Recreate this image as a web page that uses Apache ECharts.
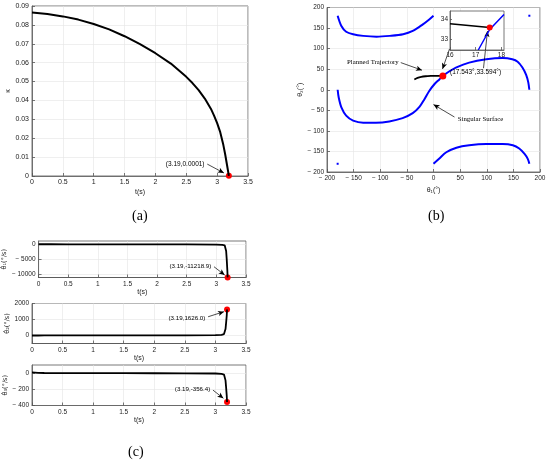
<!DOCTYPE html>
<html>
<head>
<meta charset="utf-8">
<script src="https://cdn.jsdelivr.net/npm/echarts@6/dist/echarts.min.js"></script>
<style>
  html, body { margin: 0; padding: 0; background: #fff; }
  #main { width: 550px; height: 464px; }
</style>
</head>
<body>
<div id="main"></div>
<script>
// ---- (a) curvature kappa vs time
var kappaT   = [0, 0.25, 0.5, 0.75, 1.0, 1.25, 1.5, 1.75, 2.0, 2.25, 2.5, 2.6, 2.7, 2.8, 2.9, 2.95, 3.0, 3.05, 3.1, 3.13, 3.16, 3.19];
var kappaVal = [0.0865, 0.0858, 0.0845, 0.0828, 0.0805, 0.0776, 0.0740, 0.0698, 0.0650, 0.0595, 0.0525, 0.0492, 0.0455, 0.0410, 0.0355, 0.0320, 0.0280, 0.0232, 0.0165, 0.0115, 0.0058, 0.0001];
var kappaEnd = [3.19, 0.0001];

// ---- (b) singular surface and planned trajectory, theta1 / theta2 in degrees
var surfUpper  = [[-180, 180], [-173, 155], [-164, 141], [-151, 135], [-132, 131], [-107, 129], [-82, 131], [-57, 135], [-39, 143], [-20, 159], [-8, 171], [0, 180]];
var surfMiddle = [[-180, 0], [-178, -19], [-173, -43], [-164, -63], [-151, -75], [-132, -80], [-108, -80], [-83, -77], [-58, -69], [-39, -57], [-26, -41], [-17, -23], [-8, -3], [2, 14], [11, 25], [17.543, 33.594], [30, 45], [42, 54], [67, 66], [99, 74], [130, 77], [148, 74], [158, 68], [167, 54], [174, 36], [178, 18], [180, 0]];
var surfLower  = [[0, -180], [11, -167], [24, -152], [43, -141], [67, -135], [99, -132], [130, -132], [149, -135], [161, -143], [171, -156], [177, -168], [180, -180]];
var surfDots   = [[-180, -180], [180, 180]];
var plannedTraj = [[-36, 25], [-30, 29], [-23, 31.5], [-15, 32.8], [-5, 33.5], [5, 33.8], [12, 33.8], [17.543, 33.594]];
var singularPoint = [17.543, 33.594];
// zoomed inset
var insetPlanned = [[16, 33.78], [17.543, 33.594]];
var insetSurface = [[17.1, 32.48], [17.543, 33.5], [18.1, 34.25]];

// ---- (c) joint rates vs time
var omegaT = [0, 0.1, 0.2, 0.5, 1, 1.5, 2, 2.5, 3, 3.1, 3.14, 3.155, 3.165, 3.175, 3.185, 3.19];
var omega1 = [0, -3, -6, -12, -20, -28, -38, -55, -100, -180, -350, -800, -2300, -5200, -8700, -11218.9];
var omega2 = [0, 1, 2, 3, 5, 7, 9, 13, 25, 45, 90, 180, 400, 800, 1250, 1626.0];
var omega3 = [8, 4, 1, 0, -1, -1, -2, -3, -5, -9, -18, -40, -90, -180, -280, -356.4];
var omegaEnd = [-11218.9, 1626.0, -356.4];
var omegaTicks = [[-10000, -5000, 0], [0, 1000, 2000], [-400, -200, 0]];

var axisColor = '#555';
var gridColor = '#e4e4e4';
var tickFont = 'Liberation Sans';

function zip(xs, ys) {
    return xs.map(function (x, i) { return [x, ys[i]]; });
}
function fmtNeg(v) {
    return v < 0 ? '\u2212 ' + (-v) : String(v);
}

function mkAxis(gi, min, max, interval, extra) {
    var ax = {
        type: 'value', gridIndex: gi, min: min, max: max,
        axisLine: { show: true, onZero: false, lineStyle: { color: axisColor, width: 0.8 } },
        axisTick: { show: true, inside: true, length: 3, lineStyle: { color: axisColor, width: 0.8 } },
        axisLabel: { color: '#222', fontSize: 7, margin: 3, fontFamily: tickFont, formatter: fmtNeg },
        splitLine: { show: true, lineStyle: { color: gridColor, width: 0.6 } },
        nameLocation: 'middle',
        nameTextStyle: { color: '#222', fontSize: 7, fontFamily: tickFont }
    };
    if (interval) ax.interval = interval;
    for (var k in extra) ax[k] = extra[k];
    return ax;
}

function box(left, top, width, height, extra) {
    var g = {
        left: left, top: top, width: width, height: height,
        show: true, backgroundColor: '#fff', borderColor: axisColor, borderWidth: 0.8
    };
    for (var k in extra) g[k] = extra[k];
    return g;
}

function arrows(list) {
    return {
        silent: true, symbol: ['none', 'arrow'], symbolSize: [4, 6],
        lineStyle: { color: '#000', width: 0.7, type: 'solid' },
        label: { show: false },
        emphasis: { disabled: true },
        data: list.map(function (a) { return [{ coord: a[0] }, { coord: a[1] }]; })
    };
}
function texts(list) {
    return {
        silent: true, symbol: 'rect', symbolSize: 1,
        itemStyle: { color: 'transparent' },
        data: list.map(function (t) {
            return {
                coord: t.coord,
                label: {
                    show: true, formatter: t.text, position: t.pos || 'left', distance: 1,
                    color: '#000', fontSize: t.size || 6.5, fontFamily: t.font || tickFont
                }
            };
        })
    };
}

var myChart = echarts.init(document.getElementById('main'));

var cTop = [241, 303.5, 365];
var cHeight = [36.5, 40, 40.5];
var cRange = [[-11250, 1100], [-500, 2000], [-400, 100]];
var cNames = ['\u03b8\u0307\u2081(\u00b0/s)', '\u03b8\u0307\u2082(\u00b0/s)', '\u03b8\u0307\u2083(\u00b0/s)'];

var grids = [
    box(32, 6, 216, 170),
    box(327, 7.5, 213, 164.5),
    box(450, 11, 54, 39, { z: 5 })
];
var xAxes = [
    mkAxis(0, 0, 3.5, 0.5, { name: 't(s)', nameGap: 13 }),
    mkAxis(1, -200, 200, 50, { name: '\u03b8\u2081(\u00b0)', nameGap: 15,
        axisLabel: { color: '#222', fontSize: 6.5, margin: 3, fontFamily: tickFont, formatter: fmtNeg } }),
    mkAxis(2, 16, 18.1, 1, { z: 6, splitLine: { show: false },
        axisLabel: { color: '#222', fontSize: 6.5, margin: 2, fontFamily: tickFont } })
];
var yAxes = [
    mkAxis(0, 0, 0.09, 0.01, { name: '\u03ba', nameGap: 17 }),
    mkAxis(1, -200, 200, 50, { name: '\u03b8\u2082(\u00b0)', nameGap: 18,
        axisLabel: { color: '#222', fontSize: 6.5, margin: 3, fontFamily: tickFont, formatter: fmtNeg } }),
    mkAxis(2, 32.48, 34.42, null, { z: 6, splitLine: { show: false },
        axisTick: { show: true, inside: true, length: 2, customValues: [33, 34], lineStyle: { color: axisColor, width: 0.8 } },
        axisLabel: { color: '#222', fontSize: 6.5, margin: 2, fontFamily: tickFont, customValues: [33, 34] } })
];
for (var i = 0; i < 3; i++) {
    grids.push(box(32, cTop[i], 214, cHeight[i]));
    xAxes.push(mkAxis(3 + i, 0, 3.5, 0.5, { name: 't(s)', nameGap: 11,
        axisLabel: { color: '#222', fontSize: 6.5, margin: 3, fontFamily: tickFont } }));
    yAxes.push(mkAxis(3 + i, cRange[i][0], cRange[i][1], null, {
        name: cNames[i], nameGap: 20,
        nameTextStyle: { color: '#222', fontSize: 6.5, fontFamily: 'DejaVu Sans' },
        axisTick: { show: true, inside: true, length: 3, customValues: omegaTicks[i], lineStyle: { color: axisColor, width: 0.8 } },
        axisLabel: { color: '#222', fontSize: 6.5, margin: 3, fontFamily: tickFont, formatter: fmtNeg, customValues: omegaTicks[i] }
    }));
}

function lineSeries(gi, data, color, width, extra) {
    var s = {
        type: 'line', xAxisIndex: gi, yAxisIndex: gi, data: data,
        showSymbol: false, symbol: 'none', silent: true,
        lineStyle: { color: color, width: width }
    };
    for (var k in extra) s[k] = extra[k];
    return s;
}
function dotSeries(gi, data, color, size, extra) {
    var s = {
        type: 'scatter', xAxisIndex: gi, yAxisIndex: gi, data: data, silent: true,
        symbolSize: size, itemStyle: { color: color, opacity: 1 }
    };
    for (var k in extra) s[k] = extra[k];
    return s;
}

var series = [
    lineSeries(0, zip(kappaT, kappaVal), '#000', 2, {
        markLine: arrows([[[2.84, 0.0063], [3.11, 0.0016]]]),
        markPoint: texts([{ coord: [2.82, 0.0065], text: '(' + kappaEnd[0] + ',' + kappaEnd[1].toFixed(4) + ')' }])
    }),
    dotSeries(0, [kappaEnd], '#ff0000', 6),

    lineSeries(1, surfUpper, '#0000ff', 2, { smooth: 0.3 }),
    lineSeries(1, surfMiddle, '#0000ff', 2, { smooth: 0.3 }),
    lineSeries(1, surfLower, '#0000ff', 2, { smooth: 0.3 }),
    dotSeries(1, surfDots, '#0000ff', 2, { symbol: 'rect' }),
    lineSeries(1, plannedTraj, '#000', 1.8, { smooth: 0.3 }),
    dotSeries(1, [singularPoint], '#ff0000', 7, {
        z: 10,
        markLine: arrows([
            [[-61.5, 66], [-21.6, 47.6]],
            [[30, 99], [16.9, 50.5]],
            [[39.4, -66.3], [0, -36.1]],
            [[93.9, 52.4], [101.4, 142.7]]
        ]),
        markPoint: texts([
            { coord: [-62.5, 67.5], text: 'Planned Trajectory', font: 'Liberation Serif', size: 6.8 },
            { coord: [42.8, -72], text: 'Singular Surface', pos: 'right', font: 'Liberation Serif', size: 6.8 },
            { coord: [78.9, 43.2], text: '(' + singularPoint[0] + '\u00b0,' + singularPoint[1] + '\u00b0)', pos: 'inside', size: 6.5 }
        ])
    }),

    lineSeries(2, insetPlanned, '#000', 1.5, { z: 7, clip: true }),
    lineSeries(2, insetSurface, '#0000ff', 1.5, { z: 7, clip: true }),
    dotSeries(2, [singularPoint], '#ff0000', 6, { z: 8 })
];

var omegaSets = [omega1, omega2, omega3];
var omegaArrows = [
    [[2.96, -7600], [3.14, -10400]],
    [[2.88, 1170], [3.14, 1490]],
    [[2.96, -210], [3.13, -311]]
];
var omegaTextAt = [[2.94, -7359], [2.86, 1094], [2.94, -196]];
for (var j = 0; j < 3; j++) {
    series.push(lineSeries(3 + j, zip(omegaT, omegaSets[j]), '#000', 1.8, {
        markLine: arrows([omegaArrows[j]]),
        markPoint: texts([{ coord: omegaTextAt[j], text: '(' + kappaEnd[0] + ',' + omegaEnd[j].toFixed(1) + ')', size: 6.2 }])
    }));
    series.push(dotSeries(3 + j, [[kappaEnd[0], omegaEnd[j]]], '#ff0000', 6));
}

var option = {
    animation: false,
    backgroundColor: '#fff',
    grid: grids,
    xAxis: xAxes,
    yAxis: yAxes,
    series: series,
    graphic: [
        { type: 'text', left: 132, top: 209, style: { text: '(a)', fontSize: 14, fontFamily: 'Liberation Serif', fill: '#000' } },
        { type: 'text', left: 428, top: 209, style: { text: '(b)', fontSize: 14, fontFamily: 'Liberation Serif', fill: '#000' } },
        { type: 'text', left: 128, top: 445, style: { text: '(c)', fontSize: 14, fontFamily: 'Liberation Serif', fill: '#000' } }
    ]
};
myChart.setOption(option);
window.addEventListener('resize', function () {
    myChart.resize();
});
</script>
</body>
</html>
